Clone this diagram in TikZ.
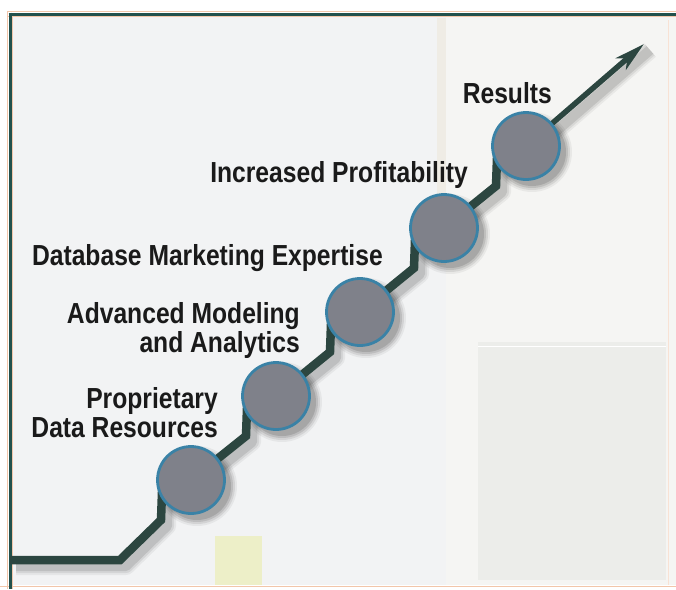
\documentclass[tikz,border=0pt]{standalone}
\usepackage{fontspec}
\setmainfont{Liberation Sans}
\newfontfamily\lblfont[FakeStretch=0.85]{Liberation Sans Bold}
\usetikzlibrary{arrows.meta}
\definecolor{bgc}{HTML}{F2F3F4}
\definecolor{bgr}{HTML}{F5F5F3}
\definecolor{beige}{HTML}{EFECE5}
\definecolor{panel}{HTML}{ECEDEA}
\definecolor{yel}{HTML}{EDEFC8}
\definecolor{halo}{HTML}{F2C6AA}
\definecolor{frame}{HTML}{22514C}
\definecolor{trailc}{HTML}{2C4640}
\definecolor{dotfill}{HTML}{7F818A}
\definecolor{dotedge}{HTML}{3A82A6}
\definecolor{txt}{HTML}{1A1A1A}
\pgfdeclarelayer{bg}
\pgfdeclarelayer{shadow}
\pgfdeclarelayer{line}
\pgfsetlayers{bg,shadow,line,main}
\begin{document}
\begin{tikzpicture}[x=1pt,y=-1pt,
  dot/.style={circle, minimum size=67pt, inner sep=0pt, fill=dotfill, draw=dotedge, line width=2.8pt},
  lbl/.style={font=\lblfont\fontsize{29}{29}\selectfont, text=txt, inner sep=0pt, align=right, anchor=base east},
  trail/.style={draw=trailc, line width=8.5pt, line join=miter},
  shaft/.style={draw=trailc, line width=5.5pt, -{Stealth[length=30pt,width=15pt,inset=8pt]}},
  frameline/.style={draw=frame, line width=3pt},
  haloline/.style={draw=halo, line width=1pt},
]
\useasboundingbox (0,0) rectangle (676,589);
% circles
\node[dot] (c1) at (191,480) {};
\node[dot] (c2) at (276,396) {};
\node[dot] (c3) at (360,312) {};
\node[dot] (c4) at (444,228) {};
\node[dot] (c5) at (526,146) {};
\coordinate (start) at (10,560);
\coordinate (tip) at (644,44);
% background
\begin{pgfonlayer}{bg}
\fill[white] (0,0) rectangle (676,589);
\fill[bgc] (10,14) rectangle (676,585);
\fill[bgr] (446,16) rectangle (676,585);
\fill[beige] (437,18) rectangle (446,265);
\fill[panel] (478,342) rectangle (666,580);
\draw[white, line width=1pt] (478,346) -- (666,346);
\fill[yel] (215,536) rectangle (262,585);
\draw[haloline] (0,586) -- (676,586);
\draw[draw=halo!50, line width=1pt] (668,20) -- (668,585);
\draw[haloline] (7,11.5) -- (676,11.5);
\draw[haloline] (7,16.8) -- (676,16.8);
\draw[haloline] (7.3,12) -- (7.3,589);
\draw[haloline] (12.7,16) -- (12.7,589);
\draw[frameline] (8.5,14) -- (676,14);
\draw[frameline] (10,12.5) -- (10,589);
\end{pgfonlayer}
% shadows
\begin{pgfonlayer}{shadow}
\begin{scope}[transform canvas={shift={(6,6)}}]
\foreach \w/\o in {18/0.05,14/0.07,10/0.1}{
\draw[black, opacity=\o, line width=\w pt, line join=round]
  (start) -- (120,560) -- (161,520) -- (162,492) -- (c1.center)
  -- (246,436) -- (247,408) -- (c2.center)
  -- (330,352) -- (331,324) -- (c3.center)
  -- (414,268) -- (415,240) -- (c4.center)
  -- (496,186) -- (497,158) -- (c5.center) -- (tip);
}
\foreach \c in {c1,c2,c3,c4,c5}{
  \foreach \r/\o in {40/0.05,38/0.08,36/0.1,34/0.12}{
    \fill[black, opacity=\o] (\c.center) circle[radius=\r pt];
  }
}
\end{scope}
\end{pgfonlayer}
% trail
\begin{pgfonlayer}{line}
\draw[trail] (start) -- (120,560) -- (161,520) -- (162,492) -- (c1.center)
  -- (246,436) -- (247,408) -- (c2.center)
  -- (330,352) -- (331,324) -- (c3.center)
  -- (414,268) -- (415,240) -- (c4.center)
  -- (496,186) -- (497,158) -- (c5.center);
\draw[shaft] (c5.center) -- (tip);
\end{pgfonlayer}
% labels
\node[lbl] (l5) at (552,103) {Results};
\node[lbl] (l4) at (468,182) {Increased Profitability};
\node[lbl] (l3) at (383,265) {Database Marketing Expertise};
\node[lbl] (l2) at (300,352) {Advanced Modeling\\and Analytics};
\node[lbl] (l1) at (218,437) {Proprietary\\Data Resources};
\end{tikzpicture}
\end{document}
